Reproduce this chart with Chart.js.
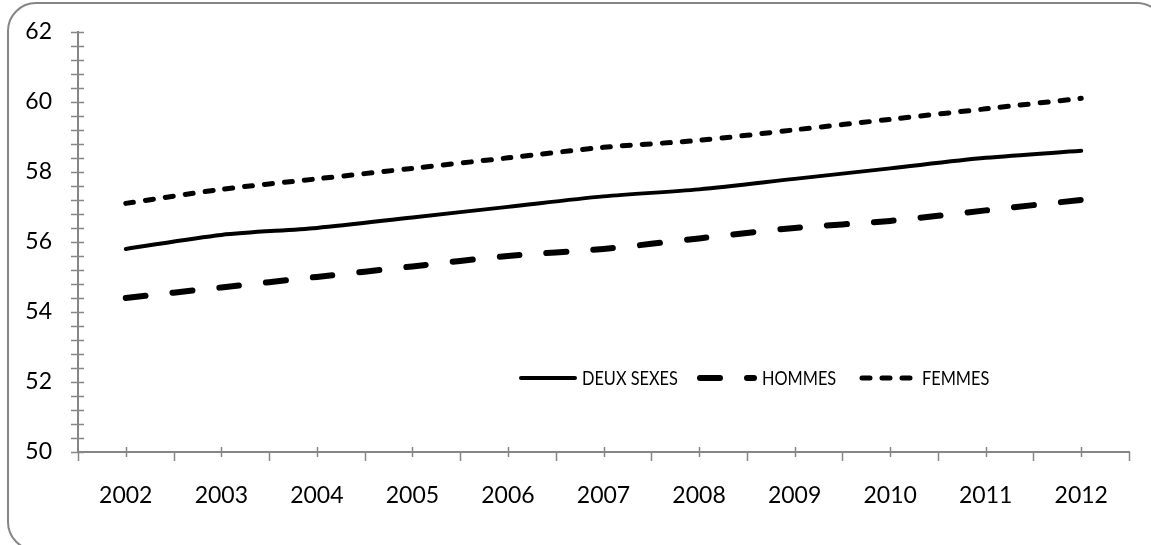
<!DOCTYPE html>
<html>
<head>
<meta charset="utf-8">
<script src="https://cdn.jsdelivr.net/npm/chart.js@4/dist/chart.umd.min.js"></script>
<style>
  html, body { margin: 0; padding: 0; background: #fff; }
  #wrap { position: relative; width: 1151px; height: 545px; }
</style>
</head>
<body>
<div id="wrap"><canvas id="lifeChart" width="1151" height="545"></canvas></div>
<script>
const years = [2002, 2003, 2004, 2005, 2006, 2007, 2008, 2009, 2010, 2011, 2012];
const deuxSexes = [55.8, 56.2, 56.4, 56.7, 57.0, 57.3, 57.5, 57.8, 58.1, 58.4, 58.6];
const hommes = [54.4, 54.7, 55.0, 55.3, 55.6, 55.8, 56.1, 56.4, 56.6, 56.9, 57.2];
const femmes = [57.1, 57.5, 57.8, 58.1, 58.4, 58.7, 58.9, 59.2, 59.5, 59.8, 60.1];
const yMin = 50, yMax = 62, yMinorStep = 0.4, yLabelStep = 2;

const axisGrey = '#868686';
const fontFamily = 'Lato, "Open Sans", sans-serif';

function toPoints(vals) {
    return years.map((yr, i) => ({ x: yr, y: vals[i] }));
}

// rounded grey frame around the whole chart
const framePlugin = {
    id: 'frame',
    beforeDraw(chart) {
        const c = chart.ctx;
        c.save();
        c.fillStyle = '#fff';
        c.fillRect(0, 0, chart.width, chart.height);
        c.strokeStyle = axisGrey;
        c.lineWidth = 2;
        c.beginPath();
        c.roundRect(8, 3, 1157, 547, 28);
        c.stroke();
        c.restore();
    }
};

// tick marks like the original (crossing / outside)
const tickPlugin = {
    id: 'tickMarks',
    afterDraw(chart) {
        const c = chart.ctx;
        const xs = chart.scales.x, ys = chart.scales.y;
        c.save();
        c.strokeStyle = axisGrey;
        c.lineWidth = 1.5;
        c.beginPath();
        ys.ticks.forEach(t => {
            const py = Math.round(ys.getPixelForValue(t.value)) + 0.5;
            c.moveTo(xs.left - 7, py);
            c.lineTo(xs.left + 6, py);
        });
        xs.ticks.forEach(t => {
            const px = Math.round(xs.getPixelForValue(t.value)) + 0.5;
            if (Number.isInteger(t.value)) {
                c.moveTo(px, ys.bottom - 5);
                c.lineTo(px, ys.bottom + 5);
            } else {
                c.moveTo(px, ys.bottom);
                c.lineTo(px, ys.bottom + 9);
            }
        });
        c.stroke();
        c.restore();
    }
};

// legend drawn inside the plot area, lower right
const legendPlugin = {
    id: 'innerLegend',
    afterDraw(chart) {
        const c = chart.ctx;
        const items = [
            { sx: 521, ex: 575, tx: 582 },
            { sx: 700, ex: 754, tx: 762 },
            { sx: 862, ex: 910, tx: 922 }
        ];
        const ly = 378;
        c.save();
        chart.data.datasets.forEach((ds, i) => {
            const it = items[i];
            c.strokeStyle = ds.borderColor;
            c.lineWidth = ds.borderWidth;
            c.lineCap = 'round';
            c.setLineDash(ds.borderDash || []);
            c.beginPath();
            c.moveTo(it.sx, ly);
            c.lineTo(it.ex, ly);
            c.stroke();
            c.setLineDash([]);
            c.fillStyle = '#000';
            c.font = '19px ' + fontFamily;
            c.textBaseline = 'middle';
            c.textAlign = 'left';
            c.save();
            c.translate(it.tx, ly + 1);
            c.scale(0.86, 1);
            c.fillText(ds.label, 0, 0);
            c.restore();
        });
        c.restore();
    }
};

new Chart(document.getElementById('lifeChart'), {
    type: 'line',
    data: {
        datasets: [
            {
                label: 'DEUX SEXES',
                data: toPoints(deuxSexes),
                borderColor: '#000',
                borderWidth: 4,
                borderCapStyle: 'round',
                pointRadius: 0,
                tension: 0.3
            },
            {
                label: 'HOMMES',
                data: toPoints(hommes),
                borderColor: '#000',
                borderWidth: 6,
                borderDash: [20, 27],
                borderCapStyle: 'round',
                pointRadius: 0,
                tension: 0.3
            },
            {
                label: 'FEMMES',
                data: toPoints(femmes),
                borderColor: '#000',
                borderWidth: 5,
                borderDash: [8, 12],
                borderCapStyle: 'round',
                pointRadius: 0,
                tension: 0.3
            }
        ]
    },
    options: {
        responsive: false,
        animation: false,
        layout: { padding: { top: 27, right: 20, left: 0, bottom: 0 } },
        plugins: {
            legend: { display: false },
            tooltip: { enabled: false }
        },
        scales: {
            x: {
                type: 'linear',
                min: years[0] - 0.5,
                max: years[years.length - 1] + 0.5,
                afterBuildTicks(scale) {
                    const t = [];
                    for (let v = scale.min; v <= scale.max + 1e-9; v += 0.5) t.push({ value: v });
                    scale.ticks = t;
                },
                afterFit(scale) { scale.height = 93; },
                grid: { display: false },
                border: { display: true, color: axisGrey, width: 2 },
                ticks: {
                    autoSkip: false,
                    maxRotation: 0,
                    padding: 22,
                    color: '#000',
                    font: { family: fontFamily, size: 23 },
                    callback: v => Number.isInteger(v) ? String(v) : ''
                }
            },
            y: {
                min: yMin,
                max: yMax,
                afterBuildTicks(scale) {
                    const t = [];
                    const n = Math.round((yMax - yMin) / yMinorStep);
                    for (let k = 0; k <= n; k++) t.push({ value: yMin + k * yMinorStep });
                    scale.ticks = t;
                },
                afterFit(scale) { scale.width = 78; },
                grid: { display: false },
                border: { display: true, color: axisGrey, width: 2 },
                ticks: {
                    autoSkip: false,
                    padding: 18,
                    color: '#000',
                    font: { family: fontFamily, size: 23 },
                    callback: v => {
                        const r = Math.round(v);
                        return (Math.abs(v - r) < 1e-6 && r % yLabelStep === 0) ? String(r) : '';
                    }
                }
            }
        }
    },
    plugins: [framePlugin, tickPlugin, legendPlugin]
});
</script>
</body>
</html>
